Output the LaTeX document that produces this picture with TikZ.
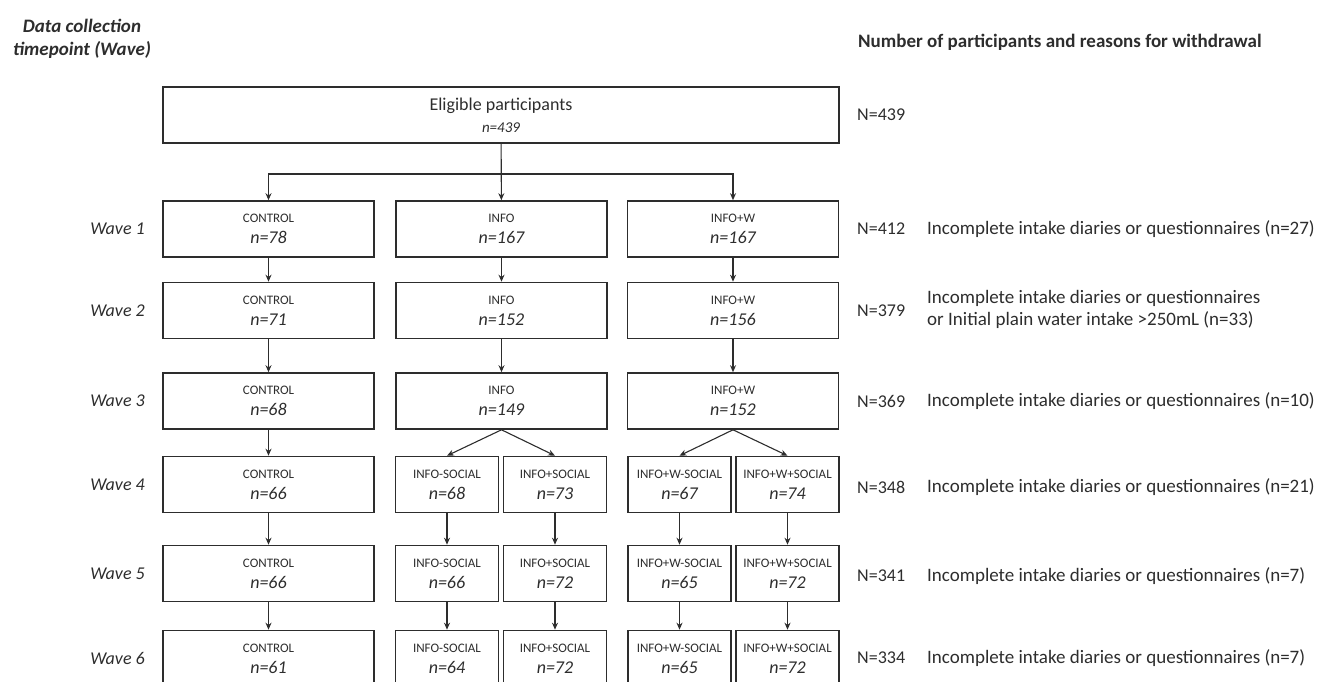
\documentclass[tikz,border=0pt]{standalone}
\usepackage{fontspec}
\setmainfont{Carlito}
\usetikzlibrary{arrows.meta}
\definecolor{ink}{RGB}{45,45,45}
\newcommand{\armtext}[2]{{\fontsize{13}{15}\selectfont #1}\\[1pt]{\itshape n=#2}}

\begin{document}
\begin{tikzpicture}[x=1pt,y=1pt,yscale=-1,xscale=1,
  box/.style={draw=ink,line width=1.6pt,rectangle,inner sep=0pt,align=center,text=ink,minimum height=56pt,font=\fontsize{18}{20}\selectfont},
  widebox/.style={box,minimum width=211pt},
  halfbox/.style={box,minimum width=103pt},
  link/.style={draw=ink,line width=1.1pt,-{Stealth[length=7pt,width=6pt]}},
  wavelbl/.style={anchor=east,inner sep=0pt,text=ink,font=\fontsize{18}{20}\selectfont\itshape},
  count/.style={anchor=west,inner sep=0pt,text=ink,font=\fontsize{18}{20}\selectfont},
  reason/.style={anchor=west,inner sep=0pt,text=ink,align=left,font=\fontsize{19}{22}\selectfont}]
%set diagram size to the reference, 1317 x 682
\useasboundingbox (0,0) rectangle (1317,682);
\clip (0,0) rectangle (1317,682);

% Headers
\node (hdrleft) at (82,39) [align=center,text=ink,font=\fontsize{19}{23}\selectfont\bfseries\itshape] {Data collection\\timepoint (Wave)};
\node (hdrright) at (858,42) [anchor=west,inner sep=0pt,text=ink,font=\fontsize{19}{22}\selectfont\bfseries] {Number of participants and reasons for withdrawal};

%Shape: Eligible box
\node (top) at (501,115) [box,minimum width=676pt] {Eligible participants\\[2pt]{\fontsize{15}{17}\selectfont\itshape n=439}};
\coordinate (split) at (501,174);

% Wave 1
\node (ctrl1) at (268.5,229) [widebox] {\armtext{CONTROL}{78}};
\node (info1) at (501.5,229) [widebox] {\armtext{INFO}{167}};
\node (infow1) at (733,229) [widebox] {\armtext{INFO+W}{167}};
% Wave 2
\node (ctrl2) at (268.5,310.5) [widebox] {\armtext{CONTROL}{71}};
\node (info2) at (501.5,310.5) [widebox] {\armtext{INFO}{152}};
\node (infow2) at (733,310.5) [widebox] {\armtext{INFO+W}{156}};
% Wave 3
\node (ctrl3) at (268.5,401) [widebox] {\armtext{CONTROL}{68}};
\node (info3) at (501.5,401) [widebox] {\armtext{INFO}{149}};
\node (infow3) at (733,401) [widebox] {\armtext{INFO+W}{152}};
% Wave 4
\node (ctrl4) at (268.5,484.5) [widebox] {\armtext{CONTROL}{66}};
\node (infom4) at (447,484.5) [halfbox] {\armtext{INFO-SOCIAL}{68}};
\node (infop4) at (555,484.5) [halfbox] {\armtext{INFO+SOCIAL}{73}};
\node (infowm4) at (679.5,484.5) [halfbox] {\armtext{INFO+W-SOCIAL}{67}};
\node (infowp4) at (787.5,484.5) [halfbox] {\armtext{INFO+W+SOCIAL}{74}};
% Wave 5
\node (ctrl5) at (268.5,573.5) [widebox] {\armtext{CONTROL}{66}};
\node (infom5) at (447,573.5) [halfbox] {\armtext{INFO-SOCIAL}{66}};
\node (infop5) at (555,573.5) [halfbox] {\armtext{INFO+SOCIAL}{72}};
\node (infowm5) at (679.5,573.5) [halfbox] {\armtext{INFO+W-SOCIAL}{65}};
\node (infowp5) at (787.5,573.5) [halfbox] {\armtext{INFO+W+SOCIAL}{72}};
% Wave 6
\node (ctrl6) at (268.5,658.5) [widebox] {\armtext{CONTROL}{61}};
\node (infom6) at (447,658.5) [halfbox] {\armtext{INFO-SOCIAL}{64}};
\node (infop6) at (555,658.5) [halfbox] {\armtext{INFO+SOCIAL}{72}};
\node (infowm6) at (679.5,658.5) [halfbox] {\armtext{INFO+W-SOCIAL}{65}};
\node (infowp6) at (787.5,658.5) [halfbox] {\armtext{INFO+W+SOCIAL}{72}};

% Wave labels
\node (wave1) at (145,229) [wavelbl] {Wave 1};
\node (wave2) at (145,310.5) [wavelbl] {Wave 2};
\node (wave3) at (145,401) [wavelbl] {Wave 3};
\node (wave4) at (145,484.5) [wavelbl] {Wave 4};
\node (wave5) at (145,573.5) [wavelbl] {Wave 5};
\node (wave6) at (145,658.5) [wavelbl] {Wave 6};

% Participant counts and withdrawals
\node (cnt0) at (857,115) [count] {N=439};
\node (cnt1) at (857,229) [count] {N=412};
\node (cnt2) at (857,310.5) [count] {N=379};
\node (cnt3) at (857,401) [count] {N=369};
\node (cnt4) at (857,487) [count] {N=348};
\node (cnt5) at (857,576) [count] {N=341};
\node (cnt6) at (857,658) [count] {N=334};
\node (why1) at (927,229) [reason] {Incomplete intake diaries or questionnaires (n=27)};
\node (why2) at (927,309) [reason] {Incomplete intake diaries or questionnaires\\or Initial plain water intake >250mL (n=33)};
\node (why3) at (927,401) [reason] {Incomplete intake diaries or questionnaires (n=10)};
\node (why4) at (927,487) [reason] {Incomplete intake diaries or questionnaires (n=21)};
\node (why5) at (927,576) [reason] {Incomplete intake diaries or questionnaires (n=7)};
\node (why6) at (927,658) [reason] {Incomplete intake diaries or questionnaires (n=7)};

% Randomisation
\draw [link] (top) -- (info1);
\draw [link] (split) -| (ctrl1.north);
\draw [link] (split) -| (infow1.north);
% Control arm
\draw [link] (ctrl1) -- (ctrl2);
\draw [link] (ctrl2) -- (ctrl3);
\draw [link] (ctrl3) -- (ctrl4);
\draw [link] (ctrl4) -- (ctrl5);
\draw [link] (ctrl5) -- (ctrl6);
% Info arm
\draw [link] (info1) -- (info2);
\draw [link] (info2) -- (info3);
\draw [link] (info3.south) -- (infom4.north);
\draw [link] (info3.south) -- (infop4.north);
\draw [link] (infom4) -- (infom5);
\draw [link] (infom5) -- (infom6);
\draw [link] (infop4) -- (infop5);
\draw [link] (infop5) -- (infop6);
% Info+W arm
\draw [link] (infow1) -- (infow2);
\draw [link] (infow2) -- (infow3);
\draw [link] (infow3.south) -- (infowm4.north);
\draw [link] (infow3.south) -- (infowp4.north);
\draw [link] (infowm4) -- (infowm5);
\draw [link] (infowm5) -- (infowm6);
\draw [link] (infowp4) -- (infowp5);
\draw [link] (infowp5) -- (infowp6);

\end{tikzpicture}
\end{document}
